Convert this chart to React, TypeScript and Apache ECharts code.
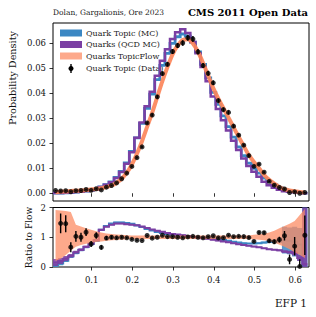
import React, { useEffect, useRef } from "react";
import * as echarts from "echarts";

// ---------- binning ----------
const BIN_LOW = 0.005;
const BIN_WIDTH = 0.0125;
const N_BINS = 50;
const binEdges = Array.from({ length: N_BINS + 1 }, (_, i) => +(BIN_LOW + i * BIN_WIDTH).toFixed(5));
const binCenters = binEdges.slice(0, N_BINS).map((e) => +(e + BIN_WIDTH / 2).toFixed(5));

// ---------- values (probability density per bin) ----------
const flowDensity = [0.0004, 0.0006, 0.0007, 0.0009, 0.001, 0.0011, 0.0013, 0.0015, 0.0017, 0.002,
  0.0025, 0.0031, 0.0042, 0.0058, 0.0082, 0.0115, 0.0158, 0.0208, 0.0265, 0.0322,
  0.0385, 0.0448, 0.0504, 0.0555, 0.059, 0.0612, 0.0615, 0.0598, 0.0565, 0.052,
  0.047, 0.042, 0.0378, 0.034, 0.0302, 0.0263, 0.0225, 0.0188, 0.0152, 0.0125,
  0.01, 0.0073, 0.0054, 0.0038, 0.0025, 0.0016, 0.0011, 0.0008, 0.0005, 0.0003];

const dataDensity = [0.0011, 0.00088, 0.00102, 0.0006, 0.00103, 0.0011, 0.00152, 0.00116, 0.0018, 0.00132,
  0.00243, 0.0031, 0.00412, 0.0058, 0.00804, 0.0107, 0.01422, 0.01851, 0.02809, 0.03123,
  0.0385, 0.0478, 0.0515, 0.0566, 0.059, 0.06, 0.0621, 0.0616, 0.0565, 0.051,
  0.0479, 0.0441, 0.037, 0.0334, 0.0323, 0.0268, 0.0232, 0.0192, 0.01505, 0.01075,
  0.0116, 0.0084, 0.00475, 0.00323, 0.0023, 0.00168, 0.00028, 0.00056, 0.00001, 0.00032];

const dataError = [0.00018, 0.0002, 0.0002, 0.00015, 0.00018, 0.00017, 0.00017, 0.00015, 0.00018, 0.00014,
  0.00017, 0.00017, 0.00018, 0.0002, 0.00025, 0.0003, 0.00035, 0.0004, 0.0005, 0.0006,
  0.0007, 0.0008, 0.0009, 0.001, 0.001, 0.0011, 0.0012, 0.0012, 0.0011, 0.001,
  0.001, 0.0009, 0.0008, 0.0008, 0.0008, 0.0007, 0.0006, 0.0005, 0.0005, 0.0004,
  0.0004, 0.00035, 0.0003, 0.00028, 0.00025, 0.00025, 0.00018, 0.00025, 0.00012, 0.0002];

const topicMC = [0.00002, 0.00007, 0.00015, 0.00032, 0.00047, 0.00063, 0.00087, 0.00116, 0.0015, 0.0025,
  0.00345, 0.00453, 0.0063, 0.0087, 0.01214, 0.01668, 0.0221, 0.0279, 0.0339, 0.0396,
  0.0454, 0.0511, 0.0559, 0.0599, 0.0625, 0.0636, 0.0627, 0.0604, 0.0565, 0.0515,
  0.0461, 0.0403, 0.0355, 0.0309, 0.0266, 0.0224, 0.0185, 0.015, 0.012, 0.0099,
  0.008, 0.006, 0.0046, 0.0033, 0.00225, 0.00144, 0.00097, 0.00068, 0.00038, 0.000015];

const qcdMC = [0.00006, 0.00012, 0.0002, 0.00034, 0.0005, 0.00064, 0.00088, 0.00117, 0.00153, 0.0025,
  0.00338, 0.0044, 0.00613, 0.00847, 0.01181, 0.01633, 0.02212, 0.02829, 0.03472, 0.04057,
  0.04697, 0.0529, 0.0575, 0.0616, 0.0643, 0.0655, 0.064, 0.0604, 0.0559, 0.0504,
  0.0447, 0.0386, 0.0336, 0.0292, 0.0251, 0.021, 0.0173, 0.0139, 0.0109, 0.0086,
  0.0066, 0.0046, 0.0032, 0.0022, 0.0014, 0.00083, 0.00055, 0.00037, 0.00015, 0.00003];

// ---------- ratio-panel uncertainties ----------
const topicMCRatioErr = [0.06, 0.06, 0.05, 0.05, 0.04, 0.04, 0.04, 0.04, 0.04, 0.03,
  0.02, 0.02, 0.02, 0.02, 0.02, 0.02, 0.02, 0.02, 0.02, 0.02,
  0.02, 0.02, 0.02, 0.02, 0.02, 0.02, 0.02, 0.02, 0.02, 0.02,
  0.02, 0.02, 0.02, 0.02, 0.02, 0.02, 0.02, 0.02, 0.02, 0.02,
  0.02, 0.03, 0.04, 0.05, 0.1, 0.45, 0.45, 0.5, 0.55, 2.5];

const qcdMCRatioErr = [0.12, 0.1, 0.08, 0.06, 0.05, 0.04, 0.04, 0.04, 0.03, 0.03,
  0.02, 0.02, 0.02, 0.02, 0.02, 0.02, 0.02, 0.02, 0.02, 0.02,
  0.02, 0.02, 0.02, 0.02, 0.02, 0.02, 0.02, 0.02, 0.02, 0.02,
  0.02, 0.02, 0.02, 0.02, 0.02, 0.02, 0.02, 0.02, 0.02, 0.02,
  0.02, 0.02, 0.02, 0.02, 0.03, 0.04, 0.05, 0.08, 0.1, 2.5];

const flowBandLow = [0.2, 0.28, 0.4, 0.55, 0.68, 0.74, 0.78, 0.81, 0.84, 0.86,
  0.88, 0.9, 0.91, 0.92, 0.93, 0.94, 0.94, 0.94, 0.94, 0.94,
  0.94, 0.94, 0.94, 0.94, 0.94, 0.94, 0.94, 0.94, 0.94, 0.94,
  0.94, 0.94, 0.94, 0.94, 0.94, 0.94, 0.94, 0.94, 0.94, 0.93,
  0.92, 0.9, 0.87, 0.82, 0.75, 0.68, 0.6, 0.5, 0.4, 0.3];

const flowBandHigh = [1.92, 1.9, 1.88, 1.85, 1.42, 1.36, 1.3, 1.25, 1.2, 1.16,
  1.13, 1.11, 1.09, 1.08, 1.07, 1.06, 1.06, 1.06, 1.06, 1.06,
  1.06, 1.06, 1.06, 1.06, 1.06, 1.06, 1.06, 1.06, 1.06, 1.06,
  1.06, 1.06, 1.06, 1.06, 1.06, 1.06, 1.06, 1.06, 1.06, 1.08,
  1.1, 1.12, 1.16, 1.22, 1.3, 1.38, 1.45, 1.55, 1.75, 1.95];

// ---------- ticks ----------
const xTicks = [0.1, 0.2, 0.3, 0.4, 0.5, 0.6];
const densityTicks = [0, 0.01, 0.02, 0.03, 0.04, 0.05, 0.06];
const ratioTicks = [0, 1, 2];

const legendNames = ["Quark Topic (MC)", "Quarks (QCD MC)", "Quarks TopicFlow", "Quark Topic (Data)"];

// ---------- styles ----------
const FONT = "'DejaVu Serif', serif";
const BLUE = "#3b87c3";
const PURPLE = "#7b3fa3";
const ORANGE_LINE = "rgba(252,134,90,0.92)";
const ORANGE_FILL = "rgba(252,140,100,0.75)";

const clamp = (v: number, lo: number, hi: number) => Math.max(lo, Math.min(hi, v));

function stepPoints(vals: number[]) {
  const pts: number[][] = [];
  vals.forEach((v, i) => {
    pts.push([binEdges[i], v]);
    pts.push([binEdges[i + 1], v]);
  });
  return pts;
}

function polygonSeries(upper: number[][], lower: number[][], fill: string, xi: number, yi: number, z: number) {
  return {
    type: "custom",
    xAxisIndex: xi,
    yAxisIndex: yi,
    clip: true,
    silent: true,
    z,
    data: [[0.3, 1]],
    renderItem: (_p: any, api: any) => {
      const pts = upper.map((p) => api.coord(p)).concat(lower.slice().reverse().map((p) => api.coord(p)));
      return { type: "polygon", shape: { points: pts }, style: { fill } };
    },
  };
}

function polylineSeries(pts: number[][], stroke: string, width: number, xi: number, yi: number, z: number) {
  return {
    type: "custom",
    xAxisIndex: xi,
    yAxisIndex: yi,
    clip: true,
    silent: true,
    z,
    data: [[0.3, 1]],
    renderItem: (_p: any, api: any) => {
      return {
        type: "polyline",
        shape: { points: pts.map((p) => api.coord(p)) },
        style: { stroke, lineWidth: width, fill: null, lineJoin: "miter" },
      };
    },
  };
}

function errorBarSeries(ys: number[], es: number[], xi: number, yi: number, z: number) {
  return {
    type: "custom",
    xAxisIndex: xi,
    yAxisIndex: yi,
    clip: true,
    silent: true,
    z,
    data: binCenters.map((c, i) => [c, ys[i] - es[i], ys[i] + es[i]]),
    encode: { x: 0, y: [1, 2] },
    renderItem: (_p: any, api: any) => {
      const a = api.coord([api.value(0), api.value(1)]);
      const b = api.coord([api.value(0), api.value(2)]);
      return {
        type: "line",
        shape: { x1: a[0], y1: a[1], x2: b[0], y2: b[1] },
        style: { stroke: "#000", lineWidth: 1.4 },
      };
    },
  };
}

export default function App() {
  const ref = useRef<HTMLDivElement>(null);

  useEffect(() => {
    if (!ref.current) return;
    const chart = echarts.init(ref.current, null, { renderer: "svg" });

    const topicRatio = topicMC.map((v, i) => v / flowDensity[i]);
    const qcdRatio = qcdMC.map((v, i) => v / flowDensity[i]);
    const dataRatio = dataDensity.map((v, i) => v / flowDensity[i]);
    const dataRatioErr = dataError.map((v, i) => v / flowDensity[i]);

    const R_LO = -0.2;
    const R_HI = 2.2;
    const topicBandHi = stepPoints(topicRatio.map((r, i) => clamp(r + topicMCRatioErr[i], R_LO, R_HI)));
    const topicBandLo = stepPoints(topicRatio.map((r, i) => clamp(r - topicMCRatioErr[i], R_LO, R_HI)));
    const qcdBandHi = stepPoints(qcdRatio.map((r, i) => clamp(r + qcdMCRatioErr[i], R_LO, R_HI)));
    const qcdBandLo = stepPoints(qcdRatio.map((r, i) => clamp(r - qcdMCRatioErr[i], R_LO, R_HI)));
    const flowHi = binCenters.map((c, i) => [c, flowBandHigh[i]]);
    const flowLo = binCenters.map((c, i) => [c, flowBandLow[i]]);

    const tickStyle = { color: "#000", width: 0.8 };
    const labelStyle = { fontFamily: FONT, fontSize: 8.5, color: "#111" };

    const option: any = {
      animation: false,
      grid: [
        { left: 53, top: 23, width: 256, height: 178, show: true, borderColor: "#000", borderWidth: 1, backgroundColor: "transparent", containLabel: false },
        { left: 53, top: 207.5, width: 256, height: 59.5, show: true, borderColor: "#000", borderWidth: 1, backgroundColor: "transparent", containLabel: false },
      ],
      xAxis: [
        {
          gridIndex: 0, type: "value", min: 0.005, max: 0.634,
          axisLine: { show: false }, splitLine: { show: false },
          axisTick: { show: true, customValues: xTicks, length: 3.5, lineStyle: tickStyle },
          axisLabel: { show: false },
        },
        {
          gridIndex: 1, type: "value", min: 0.005, max: 0.634,
          axisLine: { show: false }, splitLine: { show: false },
          axisTick: { show: true, customValues: xTicks, length: 3.5, lineStyle: tickStyle },
          axisLabel: { show: true, customValues: xTicks, formatter: (v: number) => v.toFixed(1), margin: 8, ...labelStyle },
        },
      ],
      yAxis: [
        {
          gridIndex: 0, type: "value", min: -0.0031, max: 0.068,
          axisLine: { show: false }, splitLine: { show: false },
          axisTick: { show: true, customValues: densityTicks, length: 3.5, lineStyle: tickStyle },
          axisLabel: { show: true, customValues: densityTicks, formatter: (v: number) => v.toFixed(2), margin: 7, ...labelStyle },
        },
        {
          gridIndex: 1, type: "value", min: 0, max: 2,
          axisLine: { show: false }, splitLine: { show: false },
          axisTick: { show: true, customValues: ratioTicks, length: 3.5, lineStyle: tickStyle },
          axisLabel: { show: true, customValues: ratioTicks, formatter: (v: number) => String(Math.round(v)), margin: 7, ...labelStyle },
        },
      ],
      series: [
        // top panel
        polylineSeries(stepPoints(topicMC), BLUE, 2.8, 0, 0, 2),
        polylineSeries(stepPoints(qcdMC), PURPLE, 2.5, 0, 0, 3),
        {
          type: "line", xAxisIndex: 0, yAxisIndex: 0, z: 4, silent: true,
          data: binCenters.map((c, i) => [c, flowDensity[i]]),
          smooth: 0.3, showSymbol: false, symbol: "none",
          lineStyle: { color: ORANGE_LINE, width: 4 },
        },
        errorBarSeries(dataDensity, dataError, 0, 0, 5),
        {
          type: "scatter", xAxisIndex: 0, yAxisIndex: 0, z: 6, silent: true,
          data: binCenters.map((c, i) => [c, dataDensity[i]]),
          symbolSize: 5, itemStyle: { color: "#000" },
        },
        // ratio panel
        polygonSeries(topicBandHi, topicBandLo, "rgba(59,135,195,0.85)", 1, 1, 2),
        polylineSeries(stepPoints(topicRatio.map((r) => clamp(r, R_LO, R_HI))), BLUE, 2, 1, 1, 2),
        polygonSeries(qcdBandHi, qcdBandLo, "rgba(123,63,163,0.85)", 1, 1, 3),
        polylineSeries(stepPoints(qcdRatio.map((r) => clamp(r, R_LO, R_HI))), PURPLE, 2, 1, 1, 3),
        polygonSeries(flowHi, flowLo, ORANGE_FILL, 1, 1, 4),
        errorBarSeries(dataRatio, dataRatioErr, 1, 1, 5),
        {
          type: "scatter", xAxisIndex: 1, yAxisIndex: 1, z: 6, silent: true,
          data: binCenters.map((c, i) => [c, dataRatio[i]]),
          symbolSize: 5, itemStyle: { color: "#000" },
        },
      ],
      graphic: [
        { type: "text", style: { text: "Dolan, Gargalionis, Ore 2023", x: 53, y: 12.5, textAlign: "left", textVerticalAlign: "middle", font: `7.5px ${FONT}`, fill: "#222" } },
        { type: "text", style: { text: "CMS 2011 Open Data", x: 308, y: 12, textAlign: "right", textVerticalAlign: "middle", font: `bold 10px ${FONT}`, fill: "#000" } },
        { type: "text", x: 12, y: 78, rotation: Math.PI / 2, style: { text: "Probability Density", x: 0, y: 0, textAlign: "center", textVerticalAlign: "middle", font: `9.7px ${FONT}`, fill: "#111" } },
        { type: "text", x: 29, y: 237.5, rotation: Math.PI / 2, style: { text: "Ratio to Flow", x: 0, y: 0, textAlign: "center", textVerticalAlign: "middle", font: `9px ${FONT}`, fill: "#111" } },
        { type: "text", style: { text: "EFP 1", x: 307, y: 303, textAlign: "right", textVerticalAlign: "middle", font: `10.5px ${FONT}`, fill: "#111" } },
        // legend
        { type: "rect", shape: { x: 60, y: 29.5, width: 22, height: 7 }, style: { fill: BLUE } },
        { type: "rect", shape: { x: 60, y: 41, width: 22, height: 7 }, style: { fill: PURPLE } },
        { type: "rect", shape: { x: 60, y: 52.5, width: 22, height: 7 }, style: { fill: ORANGE_FILL } },
        { type: "line", shape: { x1: 71, y1: 64, x2: 71, y2: 73 }, style: { stroke: "#000", lineWidth: 1.4 } },
        { type: "circle", shape: { cx: 71, cy: 68.5, r: 2.5 }, style: { fill: "#000" } },
        { type: "text", style: { text: legendNames[0], x: 86, y: 33, textAlign: "left", textVerticalAlign: "middle", font: `8px ${FONT}`, fill: "#222" } },
        { type: "text", style: { text: legendNames[1], x: 86, y: 44.5, textAlign: "left", textVerticalAlign: "middle", font: `8px ${FONT}`, fill: "#222" } },
        { type: "text", style: { text: legendNames[2], x: 86, y: 56, textAlign: "left", textVerticalAlign: "middle", font: `8px ${FONT}`, fill: "#222" } },
        { type: "text", style: { text: legendNames[3], x: 86, y: 68.5, textAlign: "left", textVerticalAlign: "middle", font: `8px ${FONT}`, fill: "#222" } },
      ],
    };

    chart.setOption(option);
    return () => chart.dispose();
  }, []);

  return <div ref={ref} style={{ position: "absolute", left: 0, top: 0, width: 316, height: 317, background: "#fff" }} />;
}
